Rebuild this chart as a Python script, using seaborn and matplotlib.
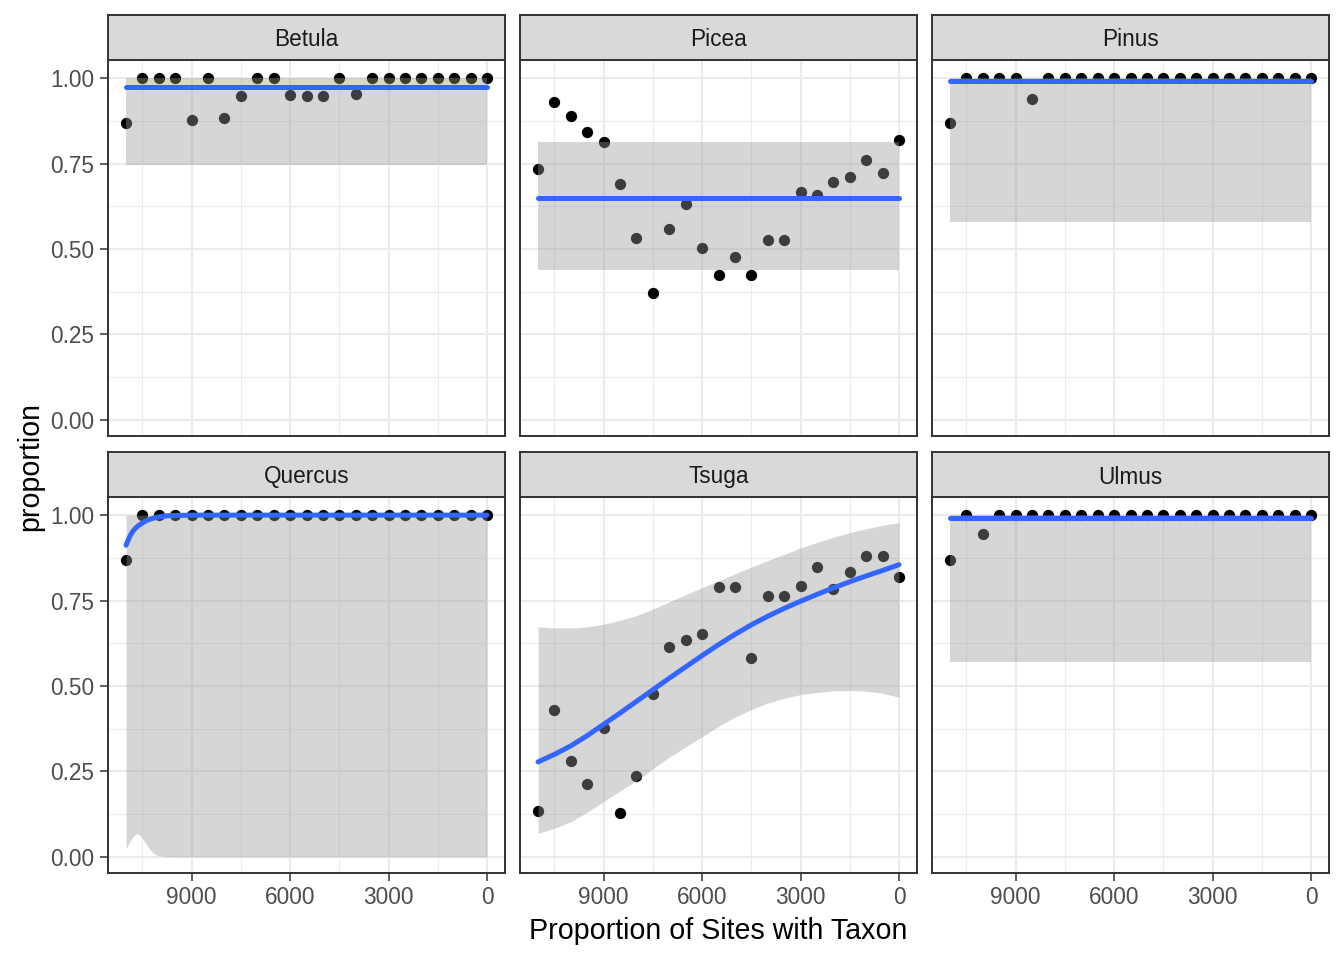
import numpy as np
import pandas as pd
import matplotlib
matplotlib.use("Agg")
import matplotlib.pyplot as plt
import seaborn as sns
from matplotlib.ticker import FixedLocator, FixedFormatter

# ---------------- data ----------------
ages = [11000, 10500, 10000, 9500, 9000, 8500, 8000, 7500, 7000, 6500, 6000, 5500,
        5000, 4500, 4000, 3500, 3000, 2500, 2000, 1500, 1000, 500, 0]

taxa = ["Betula", "Picea", "Pinus", "Quercus", "Tsuga", "Ulmus"]

betula = [0.868, 1, 1, 1, 0.877, 1, 0.883, 0.947, 1, 1, 0.950, 0.947,
          0.947, 1, 0.953, 1, 1, 1, 1, 1, 1, 1, 1]
picea = [0.735, 0.930, 0.889, 0.843, 0.814, 0.691, 0.533, 0.372, 0.558, 0.632, 0.504, 0.425,
         0.478, 0.425, 0.526, 0.526, 0.668, 0.658, 0.697, 0.711, 0.761, 0.723, 0.820]
pinus = [0.869, 1, 1, 1, 1, 0.939, 1, 1, 1, 1, 1, 1,
         1, 1, 1, 1, 1, 1, 1, 1, 1, 1, 1]
quercus = [0.868, 1, 1, 1, 1, 1, 1, 1, 1, 1, 1, 1,
           1, 1, 1, 1, 1, 1, 1, 1, 1, 1, 1]
tsuga = [0.135, 0.431, 0.282, 0.213, 0.377, 0.128, 0.238, 0.477, 0.615, 0.635, 0.652, 0.789,
         0.789, 0.583, 0.763, 0.763, 0.792, 0.849, 0.784, 0.834, 0.881, 0.881, 0.819]
ulmus = [0.869, 1, 0.945, 1, 1, 1, 1, 1, 1, 1, 1, 1,
         1, 1, 1, 1, 1, 1, 1, 1, 1, 1, 1]

# fitted smooth curves and their confidence bands
flat_ages = [11000, 0]
betula_fit = [0.973, 0.973]
betula_lo = [0.747, 0.747]
betula_hi = [1.0, 1.0]
picea_fit = [0.648, 0.648]
picea_lo = [0.440, 0.440]
picea_hi = [0.813, 0.813]
pinus_fit = [0.993, 0.993]
pinus_lo = [0.580, 0.580]
pinus_hi = [1.0, 1.0]
ulmus_fit = [0.993, 0.993]
ulmus_lo = [0.569, 0.569]
ulmus_hi = [1.0, 1.0]

quercus_ages = [11000, 10900, 10800, 10700, 10600, 10500, 10400, 10300, 10200, 10100,
                10000, 9750, 9500, 9000, 0]
quercus_fit = [0.912, 0.935, 0.952, 0.963, 0.971, 0.977, 0.983, 0.987, 0.990, 0.993,
               0.995, 0.998, 0.999, 1.0, 1.0]
quercus_lo = [0.025, 0.042, 0.058, 0.068, 0.066, 0.055, 0.040, 0.025, 0.014, 0.007,
              0.003, 0.001, 0.0, 0.0, 0.0]
quercus_hi = [1.0, 1.0, 1.0, 1.0, 1.0, 1.0, 1.0, 1.0, 1.0, 1.0,
              1.0, 1.0, 1.0, 1.0, 1.0]

tsuga_fit = [0.278, 0.300, 0.325, 0.355, 0.388, 0.421, 0.455, 0.489, 0.523, 0.556, 0.589, 0.621,
             0.651, 0.679, 0.704, 0.727, 0.748, 0.768, 0.787, 0.805, 0.822, 0.838, 0.855]
tsuga_lo = [0.069, 0.084, 0.103, 0.131, 0.162, 0.193, 0.223, 0.258, 0.292, 0.322, 0.352, 0.382,
            0.409, 0.431, 0.450, 0.464, 0.475, 0.481, 0.486, 0.487, 0.485, 0.479, 0.467]
tsuga_hi = [0.673, 0.670, 0.670, 0.673, 0.681, 0.692, 0.706, 0.725, 0.746, 0.767, 0.788, 0.808,
            0.828, 0.848, 0.867, 0.885, 0.904, 0.920, 0.935, 0.949, 0.960, 0.970, 0.978]

points = {"Betula": betula, "Picea": picea, "Pinus": pinus,
          "Quercus": quercus, "Tsuga": tsuga, "Ulmus": ulmus}
fits = {
    "Betula": (flat_ages, betula_fit, betula_lo, betula_hi),
    "Picea": (flat_ages, picea_fit, picea_lo, picea_hi),
    "Pinus": (flat_ages, pinus_fit, pinus_lo, pinus_hi),
    "Quercus": (quercus_ages, quercus_fit, quercus_lo, quercus_hi),
    "Tsuga": (ages, tsuga_fit, tsuga_lo, tsuga_hi),
    "Ulmus": (flat_ages, ulmus_fit, ulmus_lo, ulmus_hi),
}

df = pd.concat([pd.DataFrame({"age": ages, "proportion": points[t], "taxon": t}) for t in taxa],
               ignore_index=True)

# ---------------- style ----------------
sns.set_style("white")
plt.rcParams["font.family"] = ["Liberation Sans", "DejaVu Sans"]

W, H = 1344, 960
fig = plt.figure(figsize=(W / 100, H / 100), dpi=100)

col_x = [108, 520, 932]
pw = 397
rows = [(15, 60, 436), (452, 497, 873)]  # strip top, panel top, panel bottom

BORDER = "#333333"
GRID = "#EBEBEB"
TICK_FS = 16.3
TITLE_FS = 20.6


def fbox(x0, y0, x1, y1):
    return [x0 / W, 1 - y1 / H, (x1 - x0) / W, (y1 - y0) / H]


for i, t in enumerate(taxa):
    r, c = divmod(i, 3)
    st, pt, pb = rows[r]
    x0 = col_x[c]
    ax = fig.add_axes(fbox(x0, pt, x0 + pw, pb))
    ax.set_axisbelow(True)

    sub = df[df["taxon"] == t]
    sns.scatterplot(data=sub, x="age", y="proportion", ax=ax, color="black",
                    s=66, linewidth=0, zorder=2, legend=False)
    fa, ff, flo, fhi = fits[t]
    ax.fill_between(fa, flo, fhi, color="#999999", alpha=0.4, linewidth=0, zorder=3)
    fit_df = pd.DataFrame({"age": fa, "fit": ff})
    sns.lineplot(data=fit_df, x="age", y="fit", ax=ax, color="#3366FF",
                 linewidth=3.6, zorder=4, legend=False)

    ax.set_xlim(11550, -550)
    ax.set_ylim(-0.047, 1.053)
    ax.set_xlabel("")
    ax.set_ylabel("")

    ax.xaxis.set_major_locator(FixedLocator([9000, 6000, 3000, 0]))
    ax.xaxis.set_major_formatter(FixedFormatter(["9000", "6000", "3000", "0"]))
    ax.xaxis.set_minor_locator(FixedLocator([10500, 7500, 4500, 1500]))
    ax.yaxis.set_major_locator(FixedLocator([0, 0.25, 0.5, 0.75, 1.0]))
    ax.yaxis.set_major_formatter(FixedFormatter(["0.00", "0.25", "0.50", "0.75", "1.00"]))
    ax.yaxis.set_minor_locator(FixedLocator([0.125, 0.375, 0.625, 0.875]))

    ax.grid(True, which="major", color=GRID, linewidth=1.5)
    ax.grid(True, which="minor", color=GRID, linewidth=0.75)

    ax.tick_params(which="major", length=5.8, width=1.1, color=BORDER,
                   labelsize=TICK_FS, labelcolor="#4D4D4D")
    ax.tick_params(axis="y", which="major", pad=4.0)
    ax.tick_params(axis="x", which="major", pad=3.5)
    ax.tick_params(which="minor", length=0)
    ax.tick_params(left=(c == 0), labelleft=(c == 0),
                   bottom=(r == 1), labelbottom=(r == 1))

    for sp in ax.spines.values():
        sp.set_color(BORDER)
        sp.set_linewidth(1.4)
        sp.set_zorder(6)

    # strip
    sax = fig.add_axes(fbox(x0, st, x0 + pw, pt))
    sax.set_facecolor("#D9D9D9")
    sax.set_xticks([])
    sax.set_yticks([])
    for sp in sax.spines.values():
        sp.set_color(BORDER)
        sp.set_linewidth(1.4)
    sax.text(0.5, 0.5, t, transform=sax.transAxes, ha="center", va="center_baseline",
             fontsize=TICK_FS, color="#1A1A1A")

fig.text(30 / W, 1 - 466.5 / H, "proportion", rotation=90, ha="center", va="center",
         fontsize=TITLE_FS, color="black")
fig.text(718.5 / W, 1 - 939 / H, "Proportion of Sites with Taxon", ha="center",
         va="baseline", fontsize=TITLE_FS, color="black")

fig.savefig("out.png", dpi=100, facecolor="white")
